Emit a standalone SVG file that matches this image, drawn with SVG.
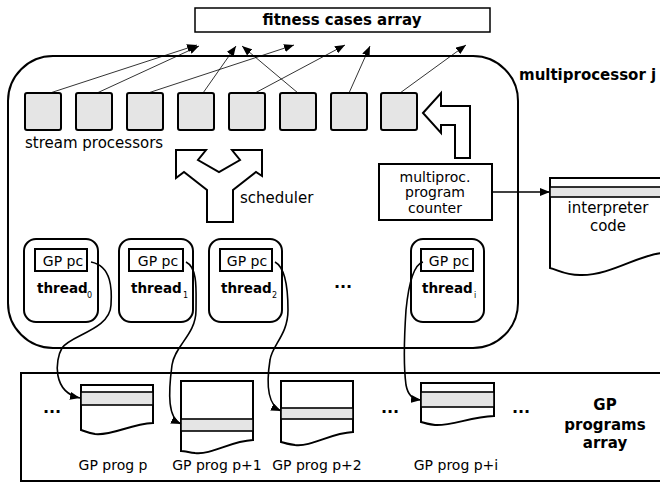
<svg xmlns="http://www.w3.org/2000/svg" width="660" height="483" viewBox="0 0 660 483">
<defs>
<style>
.t{font-family:"DejaVu Sans",sans-serif;fill:#000}
.b{font-family:"DejaVu Sans",sans-serif;font-weight:bold;fill:#000}
.box{fill:#fff;stroke:#000;stroke-width:2}
.sp{fill:#e5e5e5;stroke:#000;stroke-width:2}
.thin{fill:none;stroke:#000;stroke-width:0.8}
.con{fill:none;stroke:#000;stroke-width:1.6}
.gray{fill:#e5e5e5;stroke:#000;stroke-width:1.6}
</style>
<marker id="ah" viewBox="0 0 10 8" refX="10" refY="4" markerWidth="10" markerHeight="8" markerUnits="userSpaceOnUse" orient="auto">
<path d="M0,0 L10,4 L0,8 Z" fill="#000"/>
</marker>
<marker id="ah2" viewBox="0 0 10 8" refX="10" refY="4" markerWidth="10" markerHeight="8" markerUnits="userSpaceOnUse" orient="auto">
<path d="M0,0 L10,4 L0,8 Z" fill="#000"/>
</marker>
</defs>

<g id="fitness">
<rect x="195" y="8" width="295" height="24" fill="#fff" stroke="#000" stroke-width="1.5"/>
<text class="b" x="342" y="25" font-size="15" text-anchor="middle">fitness cases array</text>
</g>

<g id="multiprocessor">
<rect x="8" y="56" width="510" height="292" rx="45" ry="45" class="box"/>
<text class="b" x="519" y="80" font-size="15">multiprocessor j</text>
</g>

<g id="stream-processors">
<rect x="25" y="93" width="36" height="37" rx="2" class="sp"/>
<rect x="76" y="93" width="36" height="37" rx="2" class="sp"/>
<rect x="127" y="93" width="36" height="37" rx="2" class="sp"/>
<rect x="178" y="93" width="36" height="37" rx="2" class="sp"/>
<rect x="229" y="93" width="36" height="37" rx="2" class="sp"/>
<rect x="280" y="93" width="36" height="37" rx="2" class="sp"/>
<rect x="331" y="93" width="36" height="37" rx="2" class="sp"/>
<rect x="381" y="93" width="36" height="37" rx="2" class="sp"/>
<text class="t" x="25" y="148" font-size="15">stream processors</text>
</g>

<g id="pc-arrow">
<path d="M423,113 L441,93 L441,106 L470,106 L470,158 L455,158 L455,125 L441,125 L441,133 Z" class="box"/>
</g>

<g id="scheduler">
<path d="M176,150 L206,150 L198,160 L219,172 L240,160 L232,150 L262,150 L262,176 L256,172 L233,190 L233,222 L207,222 L207,190 L184,172 L176,178 Z" class="box"/>
<text class="t" x="240" y="203" font-size="15">scheduler</text>
</g>

<g id="program-counter">
<rect x="379" y="164" width="113" height="56" class="box"/>
<text class="t" x="435" y="182" font-size="14" text-anchor="middle">multiproc.</text>
<text class="t" x="435" y="197" font-size="14" text-anchor="middle">program</text>
<text class="t" x="435" y="213" font-size="14" text-anchor="middle">counter</text>
</g>

<g id="interpreter">
<path d="M550,268 L550,178 L662,178 L662,253 C640,254 610,276 580,275 C565,275 558,270 550,268 Z" class="box"/>
<rect x="550" y="187" width="112" height="10" class="gray"/>
<text class="t" x="608" y="213" font-size="15" text-anchor="middle">interpreter</text>
<text class="t" x="608" y="231" font-size="15" text-anchor="middle">code</text>
</g>

<g id="thread0">
<rect x="24" y="239" width="74" height="83" rx="12" class="box"/>
<rect x="35" y="249" width="52" height="22" class="box"/>
<text class="t" x="63" y="266" font-size="14" text-anchor="middle">GP pc</text>
<text class="b" x="37" y="293" font-size="13.5">thread</text>
<text class="t" x="87" y="298" font-size="8">0</text>
</g>
<g id="thread1">
<rect x="119" y="239" width="74" height="83" rx="12" class="box"/>
<rect x="129" y="249" width="54" height="22" class="box"/>
<text class="t" x="158" y="266" font-size="14" text-anchor="middle">GP pc</text>
<text class="b" x="131" y="293" font-size="13.5">thread</text>
<text class="t" x="183" y="298" font-size="8">1</text>
</g>
<g id="thread2">
<rect x="209" y="239" width="73" height="83" rx="12" class="box"/>
<rect x="220" y="249" width="52" height="22" class="box"/>
<text class="t" x="247" y="266" font-size="14" text-anchor="middle">GP pc</text>
<text class="b" x="221" y="293" font-size="13.5">thread</text>
<text class="t" x="272" y="298" font-size="8">2</text>
</g>
<g id="dots-threads">
<text class="b" x="343" y="288" font-size="16" text-anchor="middle">...</text>
</g>
<g id="threadi">
<rect x="411" y="239" width="73" height="83" rx="12" class="box"/>
<rect x="421" y="249" width="52" height="22" class="box"/>
<text class="t" x="449" y="266" font-size="14" text-anchor="middle">GP pc</text>
<text class="b" x="422" y="293" font-size="13.5">thread</text>
<text class="t" x="474" y="298" font-size="8">i</text>
</g>

<g id="gp-programs-array">
<rect x="21" y="373" width="645" height="108" class="box"/>
<text class="b" x="52" y="413" font-size="16" text-anchor="middle">...</text>
<text class="b" x="390" y="413" font-size="16" text-anchor="middle">...</text>
<text class="b" x="521" y="413" font-size="16" text-anchor="middle">...</text>
<text class="b" x="605" y="410" font-size="15" text-anchor="middle">GP</text>
<text class="b" x="605" y="430" font-size="15" text-anchor="middle">programs</text>
<text class="b" x="605" y="448" font-size="15" text-anchor="middle">array</text>
</g>

<g id="prog-p">
<path d="M81,430 L81,385 L153,385 L153,423 C130,424 112,436 95,434 C88,433 84,431 81,430 Z" class="box"/>
<rect x="81" y="392" width="72" height="13" class="gray"/>
<text class="t" x="113" y="470" font-size="14" text-anchor="middle">GP prog p</text>
</g>
<g id="prog-p1">
<path d="M181,451 L181,381 L253,381 L253,440 C230,441 212,455 195,453 C188,452 184,451 181,451 Z" class="box"/>
<rect x="181" y="419" width="72" height="12" class="gray"/>
<text class="t" x="217" y="470" font-size="14" text-anchor="middle">GP prog p+1</text>
</g>
<g id="prog-p2">
<path d="M281,442 L281,381 L353,381 L353,432 C330,433 312,447 295,445 C288,444 284,443 281,442 Z" class="box"/>
<rect x="281" y="408" width="72" height="11" class="gray"/>
<text class="t" x="317" y="470" font-size="14" text-anchor="middle">GP prog p+2</text>
</g>
<g id="prog-pi">
<path d="M421,422 L421,383 L494,383 L494,416 C470,417 452,426 435,425 C428,424 424,423 421,422 Z" class="box"/>
<rect x="421" y="392" width="73" height="15" class="gray"/>
<text class="t" x="456" y="470" font-size="14" text-anchor="middle">GP prog p+i</text>
</g>

<g id="connectors">
<line x1="50" y1="93" x2="197" y2="45" class="thin" marker-end="url(#ah)"/>
<line x1="97" y1="93" x2="199" y2="46" class="thin" marker-end="url(#ah)"/>
<line x1="148" y1="93" x2="294" y2="45" class="thin" marker-end="url(#ah)"/>
<line x1="203" y1="93" x2="236" y2="46" class="thin" marker-end="url(#ah)"/>
<line x1="255" y1="93" x2="345" y2="45" class="thin" marker-end="url(#ah)"/>
<line x1="298" y1="93" x2="242" y2="46" class="thin" marker-end="url(#ah)"/>
<line x1="349" y1="93" x2="370" y2="46" class="thin" marker-end="url(#ah)"/>
<line x1="400" y1="93" x2="466" y2="45" class="thin" marker-end="url(#ah)"/>
<line x1="492" y1="192" x2="550" y2="192" class="con" marker-end="url(#ah2)"/>
<path d="M91,262 C112,266 112,290 111,305 C110,330 70,335 62,348 C55,360 52,392 80,398" class="con" marker-end="url(#ah2)"/>
<path d="M186,262 C198,268 196,290 196,310 C196,335 175,345 172,365 C168,395 168,418 181,424" class="con" marker-end="url(#ah2)"/>
<path d="M275,262 C286,268 288,290 288,310 C288,335 272,345 270,360 C266,385 268,405 281,411" class="con" marker-end="url(#ah2)"/>
<path d="M423,262 C412,265 408,290 406,310 C404,340 404,370 406,385 C408,395 412,399 421,400" class="con" marker-end="url(#ah2)"/>
</g>
</svg>
